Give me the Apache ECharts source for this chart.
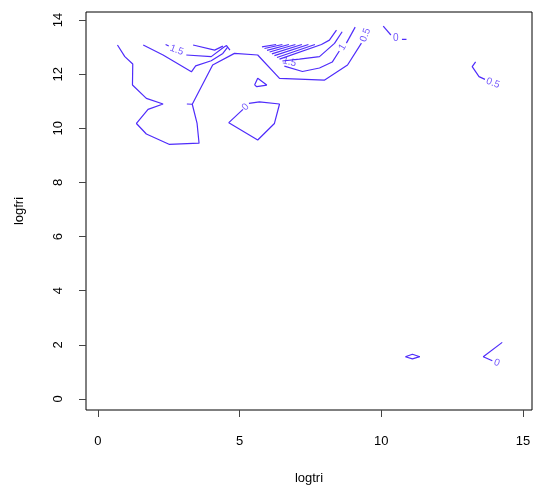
<!DOCTYPE html>
<html>
<head>
<meta charset="utf-8">
<script src="https://cdn.jsdelivr.net/npm/echarts@6/dist/echarts.min.js"></script>
<style>html,body{margin:0;padding:0;background:#fff}#c{width:534px;height:488px}</style>
</head>
<body>
<div id="c"></div>
<script>
// axis ticks
const xTicks = [0, 5, 10, 15];
const yTicks = [0, 2, 4, 6, 8, 10, 12, 14];

// contour polylines (logtri, logfri)
const lineMain = [[0.69,13.08],[0.95,12.65],[1.23,12.38],[1.22,11.60],[1.71,11.11],[2.30,10.90],[1.77,10.70],[1.36,10.18],[1.71,9.79],[2.51,9.41],[3.57,9.45],[3.50,10.18],[3.33,10.89],[4.05,12.34],[4.82,12.77],[5.64,12.71],[6.41,11.85],[7.99,11.78],[8.81,12.34],[9.30,13.15]];
const lineStub = [[3.14,10.90],[3.33,10.89]];
const lineLeftA = [[1.60,13.08],[2.30,12.71],[3.30,12.09],[3.45,12.31],[4.00,12.50],[4.41,12.77],[4.58,13.00]];
const lineLeftPre = [[2.39,13.10],[2.50,13.04]];
const lineLeftB = [[3.12,12.71],[4.00,12.65],[4.44,13.00],[4.54,13.06],[4.66,12.89]];
const lineLeftC = [[3.36,13.08],[4.12,12.89],[4.41,13.04]];
const fanLines = [
  [[5.79,13.01],[6.29,13.10]],
  [[5.88,12.95],[6.51,13.10]],
  [[5.97,12.88],[6.74,13.10]],
  [[6.06,12.82],[6.97,13.10]],
  [[6.14,12.75],[7.20,13.10]],
  [[6.23,12.69],[7.43,13.10]],
  [[6.32,12.62],[7.66,13.10]],
  [[6.41,12.56],[7.89,13.10],[8.17,13.26],[8.42,13.63]]
];
const line2 = [[6.51,12.49],[7.11,12.56],[7.82,12.65],[8.35,13.14],[8.62,13.57]];
const line1a = [[6.58,12.30],[7.22,12.10],[7.82,12.23],[8.27,12.45],[8.52,12.86]];
const line1b = [[8.77,13.15],[9.08,13.74]];
const line0TopA = [[10.07,13.78],[10.34,13.45]];
const line0TopB = [[10.73,13.29],[10.89,13.29]];
const line05Right = [[13.33,12.46],[13.21,12.28],[13.45,11.91],[13.66,11.81]];
const diamond = [[10.85,1.56],[11.10,1.65],[11.36,1.56],[11.10,1.48],[10.85,1.56]];
const line0BR = [[14.27,2.09],[13.60,1.56],[13.92,1.41]];
const pentagon = [[5.12,10.70],[4.62,10.21],[5.64,9.57],[6.23,10.18],[6.41,10.90],[5.70,10.98],[5.33,10.92]];
const triangle = [[5.53,11.60],[5.64,11.85],[5.96,11.60],[5.61,11.54],[5.53,11.60]];

// contour labels
const labelText = ['1.5', '1.5', '1', '0.5', '0', '0.5', '0', '0'];
const labelX = [2.78, 6.76, 8.63, 9.44, 10.51, 13.94, 14.08, 5.21];
const labelY = [12.89, 12.45, 13.00, 13.45, 13.32, 11.67, 1.33, 10.79];
const labelRot = [-20, -15, 60, 70, 0, -20, -20, 45];

const COL = '#4f2cfb';
const FONT = '"Liberation Sans", Arial, Helvetica, sans-serif';

const polylines = [lineMain, lineStub, lineLeftA, lineLeftPre, lineLeftB, lineLeftC, ...fanLines,
  line2, line1a, line1b, line0TopA, line0TopB, line05Right, diamond, line0BR, pentagon, triangle];

const series = polylines.map(p => ({
  type: 'line', data: p, showSymbol: false, symbol: 'none', silent: true,
  lineStyle: { color: COL, width: 1.2 }, animation: false
}));

series.push({
  type: 'scatter', symbolSize: 0, silent: true, animation: false,
  data: labelText.map((t, i) => ({
    value: [labelX[i], labelY[i]], name: t,
    label: { show: true, position: 'inside', formatter: t, rotate: labelRot[i],
      color: COL, fontSize: 10, fontFamily: FONT }
  }))
});

const chart = echarts.init(document.getElementById('c'));
chart.setOption({
  animation: false,
  grid: { left: 86, top: 12, right: 2, bottom: 78, show: true, borderColor: '#000', borderWidth: 1,
    outerBoundsMode: 'none', containLabel: false },
  xAxis: {
    type: 'value', min: -0.42, max: 15.32,
    name: 'logtri', nameLocation: 'middle', nameGap: 62,
    nameTextStyle: { fontFamily: FONT, fontSize: 13, color: '#000' },
    axisLine: { show: false, onZero: false },
    splitLine: { show: false },
    axisTick: { show: true, inside: false, length: 7, lineStyle: { color: '#444' }, customValues: xTicks },
    axisLabel: { fontFamily: FONT, fontSize: 13, color: '#000', margin: 25, customValues: xTicks }
  },
  yAxis: {
    type: 'value', min: -0.41, max: 14.30,
    name: 'logfri', nameLocation: 'middle', nameGap: 60, nameRotate: 90,
    nameTextStyle: { fontFamily: FONT, fontSize: 13, color: '#000' },
    axisLine: { show: false, onZero: false },
    splitLine: { show: false },
    axisTick: { show: true, inside: false, length: 7, lineStyle: { color: '#444' }, customValues: yTicks },
    axisLabel: { fontFamily: FONT, fontSize: 13, color: '#000', margin: 21, rotate: 90, customValues: yTicks }
  },
  series: series
});
</script>
</body>
</html>
